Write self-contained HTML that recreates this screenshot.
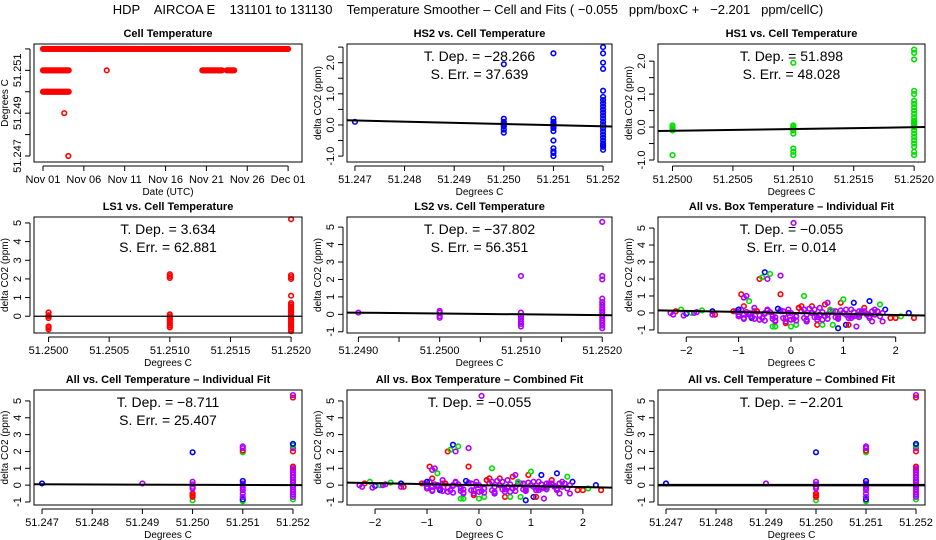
<!DOCTYPE html>
<html><head><meta charset="utf-8"><style>
body{margin:0;background:#fff}
svg{display:block;font-family:"Liberation Sans",sans-serif}
</style></head><body>
<svg id="c" width="936" height="540" viewBox="0 0 936 540">
<text x="468" y="14" text-anchor="middle" font-size="13" style="white-space:pre">HDP    AIRCOA E    131101 to 131130    Temperature Smoother – Cell and Fits ( −0.055   ppm/boxC +   −2.201   ppm/cellC)</text>
</svg>
<script>
// ---- data ----
const cellRunStart=[0,0,0,2.6,3.1,7.8,19.5,22.5];
const cellRunEnd=[30,3.2,3.2,2.6,3.1,7.8,22,23.5];
const cellRunTemp=[51.252,51.251,51.250,51.249,51.247,51.251,51.251,51.251];
const dayTickLabels=["Nov 01","Nov 06","Nov 11","Nov 16","Nov 21","Nov 26","Dec 01"];
const dayTicks=[0,5,10,15,20,25,30];
const hs2X=[51.247,51.250,51.250,51.250,51.250,51.250,51.250,51.250,51.250,51.251,51.251,51.251,51.251,51.251,51.251,51.251,51.251,51.251,51.251,51.251,51.251,51.251,51.252,51.252,51.252,51.252,51.252,51.252,51.252,51.252,51.252,51.252,51.252,51.252,51.252,51.252,51.252,51.252,51.252,51.252,51.252,51.252,51.252,51.252,51.252,51.252];
const hs2Y=[0.1,-0.25,-0.15,-0.05,0,0.05,0.1,0.2,1.95,-1.0,-0.9,-0.85,-0.75,-0.5,-0.2,-0.1,-0.05,0,0.05,0.1,0.2,2.3,-0.8,-0.7,-0.6,-0.5,-0.4,-0.3,-0.2,-0.1,0,0.1,0.2,0.3,0.4,0.5,0.6,0.7,0.8,0.9,1.1,1.8,2.0,2.3,2.5,-0.65];
const hs1X=[51.2500,51.2500,51.2500,51.2500,51.2500,51.2510,51.2510,51.2510,51.2510,51.2510,51.2510,51.2510,51.2510,51.2510,51.2520,51.2520,51.2520,51.2520,51.2520,51.2520,51.2520,51.2520,51.2520,51.2520,51.2520,51.2520,51.2520,51.2520,51.2520,51.2520,51.2520,51.2520,51.2520,51.2520,51.2520,51.2520,51.2520,51.2520];
const hs1Y=[-0.85,-0.1,-0.05,0,0.05,-0.85,-0.75,-0.65,-0.2,-0.1,-0.05,0,0.05,1.95,-0.85,-0.75,-0.6,-0.5,-0.4,-0.3,-0.2,-0.1,0,0.05,0.1,0.15,0.2,0.3,0.4,0.5,0.6,0.7,0.8,1.0,1.1,2.05,2.25,2.35];
const ls1X=[51.2500,51.2500,51.2500,51.2500,51.2500,51.2500,51.2500,51.2510,51.2510,51.2510,51.2510,51.2510,51.2510,51.2510,51.2510,51.2510,51.2510,51.2510,51.2520,51.2520,51.2520,51.2520,51.2520,51.2520,51.2520,51.2520,51.2520,51.2520,51.2520,51.2520,51.2520,51.2520,51.2520,51.2520,51.2520,51.2520,51.2520,51.2520,51.2520];
const ls1Y=[-0.7,-0.6,-0.55,-0.1,0,0.05,0.2,-0.6,-0.5,-0.4,-0.3,-0.2,-0.1,0,0.1,2.05,2.15,2.25,-0.8,-0.7,-0.6,-0.5,-0.4,-0.3,-0.2,-0.1,0,0.1,0.2,0.3,0.4,0.5,0.6,0.7,1.1,2.0,2.1,2.2,5.2];
const ls2X=[51.2490,51.2500,51.2500,51.2500,51.2500,51.2510,51.2510,51.2510,51.2510,51.2510,51.2510,51.2510,51.2520,51.2520,51.2520,51.2520,51.2520,51.2520,51.2520,51.2520,51.2520,51.2520,51.2520,51.2520,51.2520,51.2520,51.2520];
const ls2Y=[0.1,-0.2,-0.1,0.1,0.2,-0.7,-0.55,-0.4,-0.25,-0.1,0.1,2.2,-0.8,-0.65,-0.5,-0.35,-0.2,-0.05,0.1,0.25,0.4,0.55,0.7,0.9,2.0,2.2,5.3];
const boxX=[-2.3,-2.2,-2.1,-2.0,-1.9,-1.8,-1.7,-1.5,-1.45,-1.1,-1.0,-0.95,-0.9,-0.9,-0.85,-0.8,-0.75,-0.6,-0.55,-0.5,-0.45,-0.4,-0.35,-0.3,-0.2,-0.2,-0.1,0,0.05,0.1,0.2,0.25,0.3,0.4,0.5,0.6,0.65,0.7,0.8,0.9,0.95,1.0,1.05,1.1,1.2,1.25,1.3,1.4,1.5,1.55,1.6,1.7,1.75,1.8,1.9,2.0,2.1,2.25,2.35,
-1.05,-0.9,-0.7,-0.6,-0.45,-0.3,-0.15,0,0.15,0.3,0.45,0.6,0.75,0.9,1.05,1.2,1.35,1.5,1.65,-0.8,-0.5,-0.2,0.1,0.4,0.7,1.0,1.3,1.6,-0.95,-0.65,-0.35,-0.05,0.25,0.55,0.85,1.15,1.45,1.75,
-1.0,-0.9,-0.8,-0.7,-0.6,-0.5,-0.4,-0.3,-0.2,-0.1,0,0.1,0.2,0.3,0.4,0.5,0.6,0.7,0.8,0.9,1.0,1.1,1.2,1.3,1.4,
-1.0,-0.85,-0.75,-0.65,-0.55,-0.45,-0.35,-0.25,-0.15,-0.05,0.05,0.15,0.25,0.35,0.45,0.55,0.65,0.75,0.85,0.95,1.05,1.15,1.25,1.35,1.45,1.55,
-0.9,-0.7,-0.5,-0.3,-0.1,0.1,0.3,0.5,0.7,0.9,1.1,1.3,1.5,1.7,-2.25,-2.05,-1.85,-1.5];
const boxY=[0,0.1,0.2,-0.05,0,0.05,0.15,0.1,-0.1,0.1,-0.1,1.1,0.9,0.4,1.0,0.7,-0.3,2.0,2.1,2.4,2.0,2.3,-0.8,-0.8,2.2,1.1,-0.6,-0.8,5.3,-0.7,0.4,1.0,-0.5,0.4,-0.7,-0.7,0.5,0.6,-0.7,-0.9,0.6,0.8,-0.7,-0.7,0.6,-0.8,-0.2,0.3,0.7,-0.5,0.2,0.5,-0.5,0.2,-0.3,-0.3,-0.2,0,-0.3,
0.1,-0.3,0.3,-0.4,0.2,-0.5,0.1,-0.4,0.3,-0.5,0.2,-0.4,0.1,-0.3,0.2,-0.2,0,-0.3,0.1,-0.1,0,0.1,-0.2,0,-0.1,0,0.1,-0.1,0.2,0.1,-0.2,0,0.2,-0.1,0.1,-0.3,-0.1,0,
-0.2,-0.1,0,0.1,-0.15,-0.05,0.05,-0.25,0.15,-0.3,0,-0.2,0.1,-0.1,0,-0.25,0.05,-0.1,0.1,-0.2,0,-0.15,0.05,-0.1,0.1,
0.2,0.05,-0.2,0.1,-0.3,0.15,-0.35,0.25,-0.3,0.2,-0.35,0.3,-0.3,0.25,-0.25,0.3,-0.2,0.2,-0.25,0.15,-0.1,0.2,-0.15,0.1,-0.05,0.1,
-0.35,-0.35,-0.45,-0.45,-0.5,-0.45,-0.4,-0.4,-0.35,-0.35,-0.3,-0.25,-0.2,-0.2,-0.1,-0.15,0,-0.1];
const boxC=[3,0,1,2,1,3,1,2,0,0,3,0,3,0,3,1,2,0,1,2,3,1,1,1,3,0,0,1,3,1,0,1,2,0,0,1,0,3,1,2,0,1,2,0,2,3,1,0,2,3,3,1,3,2,0,0,1,2,0,
3,3,3,3,3,3,3,3,3,3,3,3,3,3,3,3,3,3,3,3,3,3,3,3,3,3,3,3,3,3,3,3,3,3,3,3,3,3,
3,3,3,3,3,3,3,3,3,3,3,3,3,3,3,3,3,3,3,3,3,3,3,3,3,
2,3,3,0,3,3,3,2,3,3,3,0,3,3,3,3,3,1,3,3,3,3,3,3,3,3,
3,3,3,3,3,3,3,3,3,3,3,3,3,3,3,3,3,3];
const allX=[51.247,51.249,51.250,51.250,51.250,51.250,51.250,51.250,51.250,51.250,51.250,51.251,51.251,51.251,51.251,51.251,51.251,51.251,51.251,51.251,51.251,51.251,51.251,51.251,51.252,51.252,51.252,51.252,51.252,51.252,51.252,51.252,51.252,51.252,51.252,51.252,51.252,51.252,51.252,51.252,51.252,51.252,51.252,51.252,51.252];
const allY=[0.1,0.1,1.95,-0.9,-0.7,-0.6,-0.5,-0.2,-0.1,0.05,0.2,-0.95,-0.85,-0.7,-0.5,-0.3,-0.15,0,0.1,0.25,1.95,2.05,2.2,2.3,-0.85,-0.7,-0.55,-0.4,-0.25,-0.1,0,0.15,0.3,0.45,0.6,0.75,0.9,1.1,2.0,2.2,2.35,2.45,5.2,5.35,1.0];
const allC=[2,3,2,1,0,0,0,3,3,3,3,1,2,3,3,3,3,3,3,2,1,0,3,3,1,3,3,3,3,3,3,3,3,3,3,3,3,0,0,3,1,2,0,3,3];
const fitText2=["T. Dep. = −28.266","S. Err. = 37.639"];
const fitText3=["T. Dep. = 51.898","S. Err. = 48.028"];
const fitText4=["T. Dep. = 3.634","S. Err. = 62.881"];
const fitText5=["T. Dep. = −37.802","S. Err. = 56.351"];
const fitText6=["T. Dep. = −0.055","S. Err. = 0.014"];
const fitText7=["T. Dep. = −8.711","S. Err. = 25.407"];
const fitText8=["T. Dep. = −0.055"];
const fitText9=["T. Dep. = −2.201"];

const NS="http://www.w3.org/2000/svg";
const svg=document.getElementById('c');
const COLORS=["#ff0000","#00e000","#0000ff","#b000ff"];
function mk(tag,at,parent){const e=document.createElementNS(NS,tag);for(const k in at)e.setAttribute(k,at[k]);(parent||svg).appendChild(e);return e;}

function panel(o){
  const g=mk('g',{});
  
  
  const [L,T,R,B]=o.box;
  const sx=v=>L+(v-o.xlim[0])/(o.xlim[1]-o.xlim[0])*(R-L);
  const sy=v=>B-(v-o.ylim[0])/(o.ylim[1]-o.ylim[0])*(B-T);
  const t=mk('text',{x:(L+R)/2,y:T-7,'text-anchor':'middle','font-size':'11','font-weight':'bold'},g);
  t.textContent=o.title;
  
  
  const pg=mk('g',{fill:'none','stroke-width':'1.6'},g);
  
  
  for(let i=0;i<o.xs.length;i++){
    const c=mk('circle',{cx:sx(o.xs[i]),cy:sy(o.ys[i]),r:2.3,stroke:COLORS[o.cs?o.cs[i]:o.color]},pg);
    
    
  }
  if(o.fit){
    const ln=mk('line',{x1:L,y1:sy(o.fit[0]),x2:R,y2:sy(o.fit[1]),stroke:'#000','stroke-width':o.fitW||2},g);
    
    
  }
  if(o.text){o.text.forEach((s,k)=>{
    const tx=mk('text',{x:(L+R)/2,y:T+17+k*18,'text-anchor':'middle','font-size':'14'},g);
    tx.textContent=s;
    
    
  });}
  const fr=mk('rect',{x:L,y:T,width:R-L,height:B-T,fill:'none',stroke:'#000','stroke-width':1},g);
  
  
  const xa=mk('g',{},g);
  
  
  const xt=o.xticks;
  mk('line',{x1:sx(xt[0]),y1:B+4,x2:sx(xt[xt.length-1]),y2:B+4,stroke:'#000'},xa);
  xt.forEach((v,i)=>{
    mk('line',{x1:sx(v),y1:B+4,x2:sx(v),y2:B+9,stroke:'#000'},xa);
    if(o.xlabels[i]!==''){const l=mk('text',{x:sx(v),y:B+21,'text-anchor':'middle','font-size':'11'},xa);l.textContent=o.xlabels[i];}
  });
  const xl=mk('text',{x:(L+R)/2,y:B+33,'text-anchor':'middle','font-size':'10'},g);
  xl.textContent=o.xlab;
  
  
  const ya=mk('g',{},g);
  
  
  const yt=o.yticks;
  mk('line',{x1:L-4,y1:sy(yt[0]),x2:L-4,y2:sy(yt[yt.length-1]),stroke:'#000'},ya);
  yt.forEach((v,i)=>{
    mk('line',{x1:L-4,y1:sy(v),x2:L-9,y2:sy(v),stroke:'#000'},ya);
    if(o.ylabels[i]!==''){const x=L-13,y=sy(v);const l=mk('text',{x:x,y:y,'text-anchor':'middle','font-size':'11',transform:`rotate(-90 ${x} ${y})`},ya);l.textContent=o.ylabels[i];}
  });
  const yx=L-26,yy=(T+B)/2;
  const yl=mk('text',{x:yx,y:yy,'text-anchor':'middle','font-size':'10',transform:`rotate(-90 ${yx} ${yy})`},g);
  yl.textContent=o.ylab;
  
  
  return {sx,sy,g};
}
const C1=[34,302],C2=[347,612],C3=[658,925];
const R1=[44,162],R2=[217,333],R3=[390,505];
const bx=(c,r)=>[c[0],r[0],c[1],r[1]];
const cellTicks=[51.247,51.248,51.249,51.250,51.251,51.252];
const cellLabels=["51.247","51.248","51.249","51.250","51.251","51.252"];
const fineTicks=[51.2500,51.2505,51.2510,51.2515,51.2520];
const fineLabels=["51.2500","51.2505","51.2510","51.2515","51.2520"];

(function(){
  const xs=[],ys=[];
  for(let i=0;i<cellRunStart.length;i++){for(let d=cellRunStart[i];d<=cellRunEnd[i]+1e-9;d+=0.15){xs.push(d);ys.push(cellRunTemp[i]);}}
  const p=panel({name:'panel-cell-temperature',box:bx(C1,R1),xlim:[-1.1,31.7],ylim:[51.24672,51.25223],title:'Cell Temperature',xs:[],ys:[],color:0,
    xticks:dayTicks,xlabels:dayTickLabels,xlab:'Date (UTC)',yticks:cellTicks,ylabels:["51.247","","51.249","","51.251",""],ylab:'Degrees C'});
  const pg=mk('g',{fill:'none','stroke-width':'1.6'},p.g);
  
  
  xs.forEach((d,i)=>{const c=mk('circle',{cx:p.sx(d),cy:p.sy(ys[i]),r:2.3,stroke:'#ff0000'},pg);
    
    });
})();
panel({name:'panel-hs2',box:bx(C2,R1),xlim:[51.24684,51.25218],ylim:[-1.19,2.6],title:'HS2 vs. Cell Temperature',xs:hs2X,ys:hs2Y,color:2,fit:[0.15,-0.05],
  xticks:cellTicks,xlabels:cellLabels,xlab:'Degrees C',yticks:[-1,-0.5,0,0.5,1,1.5,2,2.5],ylabels:["-1.0","","0.0","","1.0","","2.0",""],ylab:'delta CO2 (ppm)',text:fitText2});
panel({name:'panel-hs1',box:bx(C3,R1),xlim:[51.24988,51.25209],ylim:[-1.06,2.52],title:'HS1 vs. Cell Temperature',xs:hs1X,ys:hs1Y,color:1,fit:[-0.12,0.0],
  xticks:fineTicks,xlabels:fineLabels,xlab:'Degrees C',yticks:[-1,-0.5,0,0.5,1,1.5,2],ylabels:["-1.0","","0.0","","1.0","","2.0"],ylab:'delta CO2 (ppm)',text:fitText3});
panel({name:'panel-ls1',box:bx(C1,R2),xlim:[51.24988,51.25209],ylim:[-0.9,5.32],title:'LS1 vs. Cell Temperature',xs:ls1X,ys:ls1Y,color:0,fit:[0,0],fitW:1.2,
  xticks:fineTicks,xlabels:fineLabels,xlab:'Degrees C',yticks:[0,1,2,3,4,5],ylabels:["0","1","2","3","4","5"],ylab:'delta CO2 (ppm)',text:fitText4});
panel({name:'panel-ls2',box:bx(C2,R2),xlim:[51.24886,51.25212],ylim:[-1.07,5.58],title:'LS2 vs. Cell Temperature',xs:ls2X,ys:ls2Y,color:3,fit:[0.1,-0.05],
  xticks:[51.2490,51.2495,51.2500,51.2505,51.2510,51.2515,51.2520],xlabels:["51.2490","","51.2500","","51.2510","","51.2520"],xlab:'Degrees C',yticks:[-1,0,1,2,3,4,5],ylabels:["-1","0","1","2","3","4","5"],ylab:'delta CO2 (ppm)',text:fitText5});
const boxTicks=[-2,-1,0,1,2],boxLabels=["−2","−1","0","1","2"];
const ytA=[-1,0,1,2,3,4,5],ylA=["-1","0","1","2","3","4","5"];
panel({name:'panel-all-box-individual',box:bx(C3,R2),xlim:[-2.54,2.56],ylim:[-1.18,5.65],title:'All vs. Box Temperature – Individual Fit',xs:boxX,ys:boxY,cs:boxC,fit:[0.15,-0.15],
  xticks:boxTicks,xlabels:boxLabels,xlab:'Degrees C',yticks:ytA,ylabels:ylA,ylab:'delta CO2 (ppm)',text:fitText6});
panel({name:'panel-all-cell-individual',box:bx(C1,R3),xlim:[51.24684,51.25218],ylim:[-1.18,5.65],title:'All vs. Cell Temperature – Individual Fit',xs:allX,ys:allY,cs:allC,fit:[0.05,0.0],
  xticks:cellTicks,xlabels:cellLabels,xlab:'Degrees C',yticks:ytA,ylabels:ylA,ylab:'delta CO2 (ppm)',text:fitText7});
panel({name:'panel-all-box-combined',box:bx(C2,R3),xlim:[-2.54,2.56],ylim:[-1.18,5.65],title:'All vs. Box Temperature – Combined Fit',xs:boxX,ys:boxY,cs:boxC,fit:[0.15,-0.15],
  xticks:boxTicks,xlabels:boxLabels,xlab:'Degrees C',yticks:ytA,ylabels:ylA,ylab:'delta CO2 (ppm)',text:fitText8});
panel({name:'panel-all-cell-combined',box:bx(C3,R3),xlim:[51.24684,51.25218],ylim:[-1.18,5.65],title:'All vs. Cell Temperature – Combined Fit',xs:allX,ys:allY,cs:allC,fit:[0,0],fitW:2.5,
  xticks:cellTicks,xlabels:cellLabels,xlab:'Degrees C',yticks:ytA,ylabels:ylA,ylab:'delta CO2 (ppm)',text:fitText9});
</script>
</body></html>
